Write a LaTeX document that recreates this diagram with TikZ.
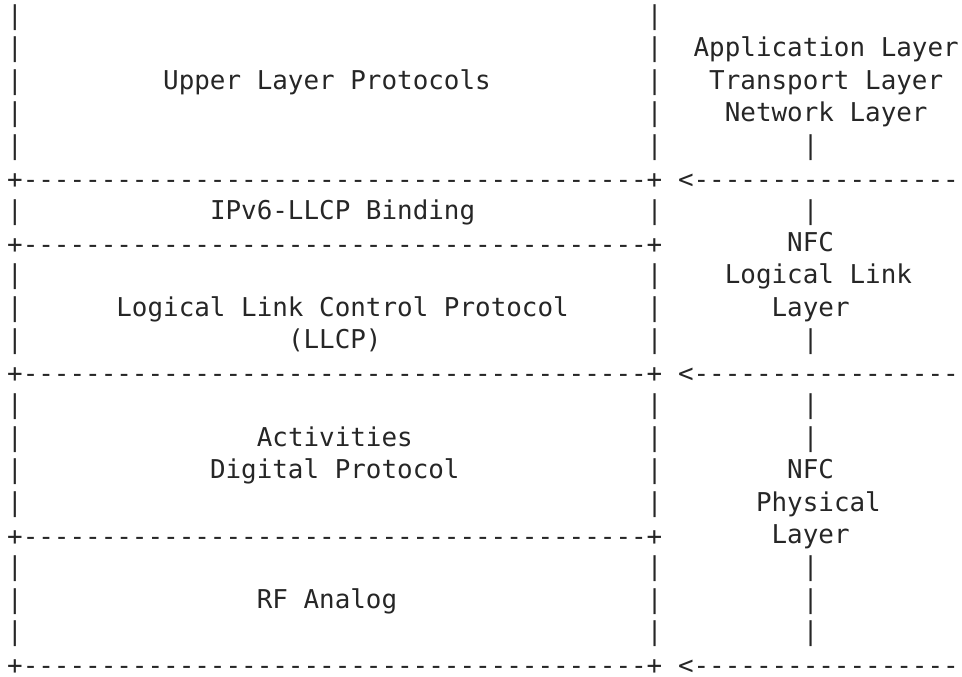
\documentclass[tikz,border=0pt]{standalone}
\usepackage{fontspec}
\newfontfamily\stackmono{DejaVu Sans Mono}
\newcommand{\stackfont}{\stackmono\fontsize{12.955pt}{16pt}\selectfont}
% a run of dashes, one box per dash so no ligature forms
\newcommand{\dashrun}[1]{\foreach \k in {1,...,#1}{\hbox{-}}}

\begin{document}
\begin{tikzpicture}[x=7.8pt, y=-16.225pt, txt/.style={anchor=mid west, inner sep=0pt, outer sep=0pt, font=\stackfont, text=black!85}]
	\useasboundingbox (-0.9615,0.3837) rectangle (60.705,21.216);

	% box sides
	\foreach \r in {1,2,3,4,5,7,9,10,11,13,14,15,16,18,19,20} {
		\node[txt] (lside\r) at (-0.5,\r) {|};
		\node[txt] (rside\r) at (40.5,\r) {|};
	}
	% box edges
	\foreach \r in {6,8,12,17,21}
		\node[txt] (edge\r) at (-0.5,\r+0.05) {+\dashrun{40}+};
	% layer boundaries
	\foreach \r in {6,12,21}
		\node[txt] (bound\r) at (42.5,\r+0.05) {<\dashrun{17}};
	% right column bars
	\foreach \r in {5,7,11,13,14,18,19,20}
		\node[txt] (bar\r) at (50.5,\r) {|};

	% stack contents
	\node[txt] (upper) at (9.5,3) {Upper Layer Protocols};
	\node[txt] (bind) at (12.5,7) {IPv6-LLCP Binding};
	\node[txt] (llcp) at (6.5,10) {Logical Link Control Protocol};
	\node[txt] (llcpab) at (17.5,11) {(LLCP)};
	\node[txt] (act) at (15.5,14) {Activities};
	\node[txt] (digi) at (12.5,15) {Digital Protocol};
	\node[txt] (rf) at (15.5,19) {RF Analog};

	% layer names
	\node[txt] (app) at (43.5,2) {Application Layer};
	\node[txt] (trans) at (44.5,3) {Transport Layer};
	\node[txt] (net) at (45.5,4) {Network Layer};
	\node[txt] (nfc1) at (49.5,8) {NFC};
	\node[txt] (loglink) at (45.5,9) {Logical Link};
	\node[txt] (layer1) at (48.5,10) {Layer};
	\node[txt] (nfc2) at (49.5,15) {NFC};
	\node[txt] (phys) at (47.5,16) {Physical};
	\node[txt] (layer2) at (48.5,17) {Layer};
\end{tikzpicture}
\end{document}
